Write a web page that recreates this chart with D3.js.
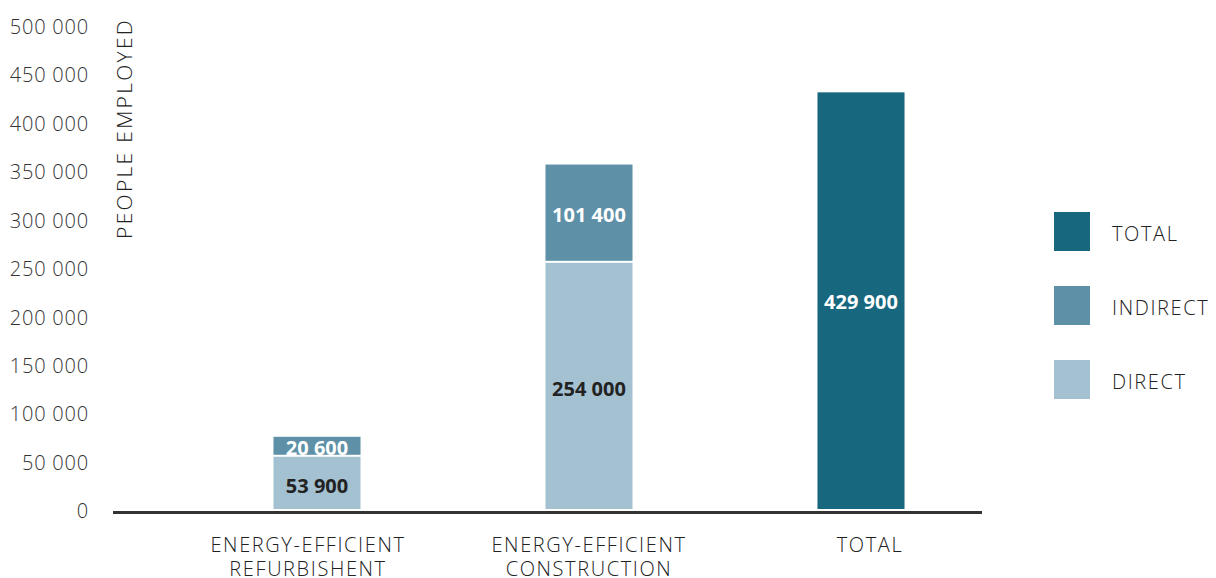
<!DOCTYPE html>
<html>
<head>
<meta charset="utf-8">
<script src="https://cdn.jsdelivr.net/npm/d3@7/dist/d3.min.js"></script>
<style>
  html, body { margin: 0; padding: 0; background: #fff; }
  svg { display: block; font-family: "Open Sans", sans-serif; }
</style>
</head>
<body>
<svg id="chart" width="1216" height="578"></svg>
<script>
// Employment by sector (people employed)
const categories = ["ENERGY-EFFICIENT\nREFURBISHENT", "ENERGY-EFFICIENT\nCONSTRUCTION", "TOTAL"];
const directValues = [53900, 254000, 0];
const indirectValues = [20600, 101400, 0];
const totalValues = [0, 0, 429900];
const yTicks = [0, 50000, 100000, 150000, 200000, 250000, 300000, 350000, 400000, 450000, 500000];
const seriesKeys = ["direct", "indirect", "total"];
const legendLabels = ["TOTAL", "INDIRECT", "DIRECT"];
const legendKeys = ["total", "indirect", "direct"];

const colors = { total: "#17677f", indirect: "#5e90a7", direct: "#a4c1d2" };
const labelColors = { total: "#ffffff", indirect: "#ffffff", direct: "#222222" };

const rows = categories.map((c, i) => ({
  category: c,
  direct: directValues[i],
  indirect: indirectValues[i],
  total: totalValues[i]
}));

const svg = d3.select("#chart");

const fmt = d3.formatLocale({ decimal: ".", thousands: " ", grouping: [3], currency: ["", ""] }).format(",d");

const y = d3.scaleLinear().domain([0, 500000]).range([509, 24.4]);
const x = d3.scaleBand().domain(categories).range([181, 997]).paddingInner(0.68).paddingOuter(0.34);

// Y axis tick labels
const yAxis = d3.axisLeft(y).tickValues(yTicks).tickSize(0).tickPadding(0).tickFormat(fmt);
const gy = svg.append("g").attr("transform", "translate(89,2.5)").call(yAxis);
gy.select(".domain").remove();
gy.selectAll("text")
  .attr("font-family", "Open Sans")
  .attr("font-weight", 300)
  .attr("font-size", 20)
  .attr("letter-spacing", 0.8)
  .attr("fill", "#333");

// Axis title
svg.append("text")
  .attr("transform", "translate(132,18) rotate(-90)")
  .attr("text-anchor", "end")
  .attr("font-weight", 300)
  .attr("font-size", 21)
  .attr("letter-spacing", 2.3)
  .attr("fill", "#222")
  .text("PEOPLE EMPLOYED");

// Stacked bars
const stacked = d3.stack().keys(seriesKeys)(rows);
const layers = svg.append("g").selectAll("g")
  .data(stacked)
  .join("g")
  .attr("fill", d => colors[d.key]);

layers.selectAll("rect")
  .data(d => d.filter(p => p[1] > p[0]).map(p => ({ p, key: d.key })))
  .join("rect")
  .attr("x", d => x(d.p.data.category))
  .attr("width", x.bandwidth())
  .attr("y", d => y(d.p[1]))
  .attr("height", d => y(d.p[0]) - y(d.p[1]) - (d.p[0] > 0 ? 2 : 0));

// Value labels inside segments
layers.selectAll("text")
  .data(d => d.filter(p => p[1] > p[0]).map(p => ({ p, key: d.key })))
  .join("text")
  .attr("x", d => x(d.p.data.category) + x.bandwidth() / 2)
  .attr("y", d => (y(d.p[0]) + y(d.p[1])) / 2)
  .attr("dy", d => d.key === "direct" ? "0.5em" : "0.4em")
  .attr("text-anchor", "middle")
  .attr("font-weight", 700)
  .attr("font-size", 20)
  .attr("fill", d => labelColors[d.key])
  .text(d => fmt(d.p[1] - d.p[0]));

// Baseline
svg.append("line")
  .attr("x1", 113).attr("x2", 982)
  .attr("y1", y(0) + 3.5).attr("y2", y(0) + 3.5)
  .attr("stroke", "#333").attr("stroke-width", 3);

// Category labels
const labelShift = [-9, 0, 9];
const xl = svg.append("g").selectAll("text")
  .data(categories)
  .join("text")
  .attr("text-anchor", "middle")
  .attr("font-weight", 300)
  .attr("font-size", 20)
  .attr("letter-spacing", 1.6)
  .attr("fill", "#222");
xl.each(function(c, k) {
  const lines = c.split("\n");
  const t = d3.select(this);
  lines.forEach((ln, i) => {
    t.append("tspan")
      .attr("x", x(c) + x.bandwidth() / 2 + labelShift[k])
      .attr("y", 552 + i * 23.5)
      .text(ln);
  });
});

// Legend
const legend = svg.append("g").selectAll("g")
  .data(legendKeys)
  .join("g")
  .attr("transform", (d, i) => `translate(1054,${212 + i * 74})`);
legend.append("rect")
  .attr("width", 36).attr("height", 39)
  .attr("fill", d => colors[d]);
legend.append("text")
  .attr("x", 58).attr("y", 22).attr("dy", "0.35em")
  .attr("font-weight", 300)
  .attr("font-size", 20)
  .attr("letter-spacing", 1.6)
  .attr("fill", "#222")
  .text((d, i) => legendLabels[i]);
</script>
</body>
</html>
